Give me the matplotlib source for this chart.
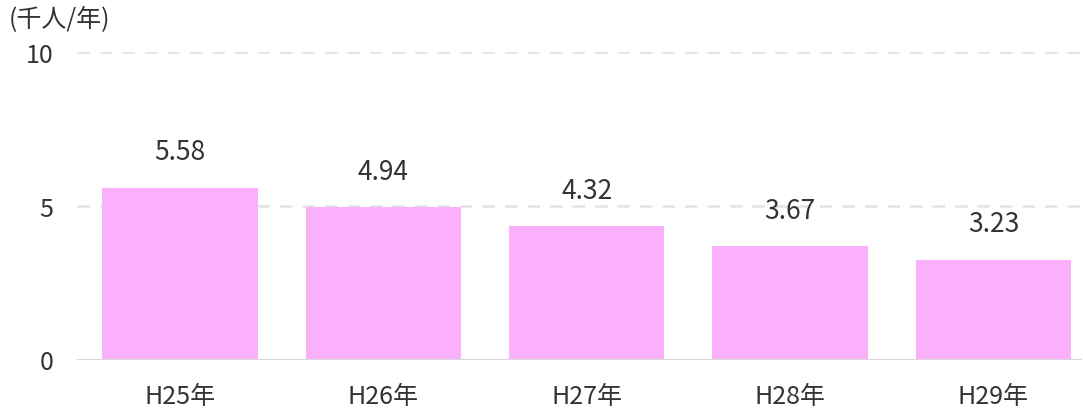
import matplotlib
matplotlib.use("Agg")
import matplotlib.pyplot as plt

plt.rcParams['font.family'] = ['Noto Sans CJK JP', 'DejaVu Sans']

categories = ["H25年", "H26年", "H27年", "H28年", "H29年"]
values = [5.58, 4.94, 4.32, 3.67, 3.23]
yticks = [0, 5, 10]
unit_label = "(千人/年)"

fig = plt.figure(figsize=(10.83, 4.14), dpi=100)
ax = fig.add_axes([0.0711, 0.1304, 0.927, 0.7415])

x = range(len(categories))
bars = ax.bar(x, values, width=0.765, color="#FBB0FB", zorder=2)
ax.set_xlim(-0.506, len(categories) - 0.57)
ax.set_ylim(0, 10)
ax.set_yticks(yticks)
ax.set_yticklabels([str(t) for t in yticks])
ax.set_xticks(list(x))
ax.set_xticklabels(categories)

for t in yticks[1:]:
    ax.axhline(t, color="#e3e3e3", lw=1.8, ls=(0, (5, 4)), zorder=1)

for s in ["top", "right", "left"]:
    ax.spines[s].set_visible(False)
ax.spines["bottom"].set_color("#d9d9d9")
ax.tick_params(axis="both", length=0, labelsize=18, colors="#333333")
ax.tick_params(axis="x", pad=17)
ax.tick_params(axis="y", pad=17)

for xi, v in zip(x, values):
    ax.annotate(f"{v:.2f}", (xi, v), xytext=(0, 26), textcoords="offset points",
                ha="center", va="center", fontsize=19, color="#333333")

fig.text(0.008, 0.952, unit_label, fontsize=18, color="#333333", ha="left", va="center")

fig.savefig("out.png", dpi=100)
